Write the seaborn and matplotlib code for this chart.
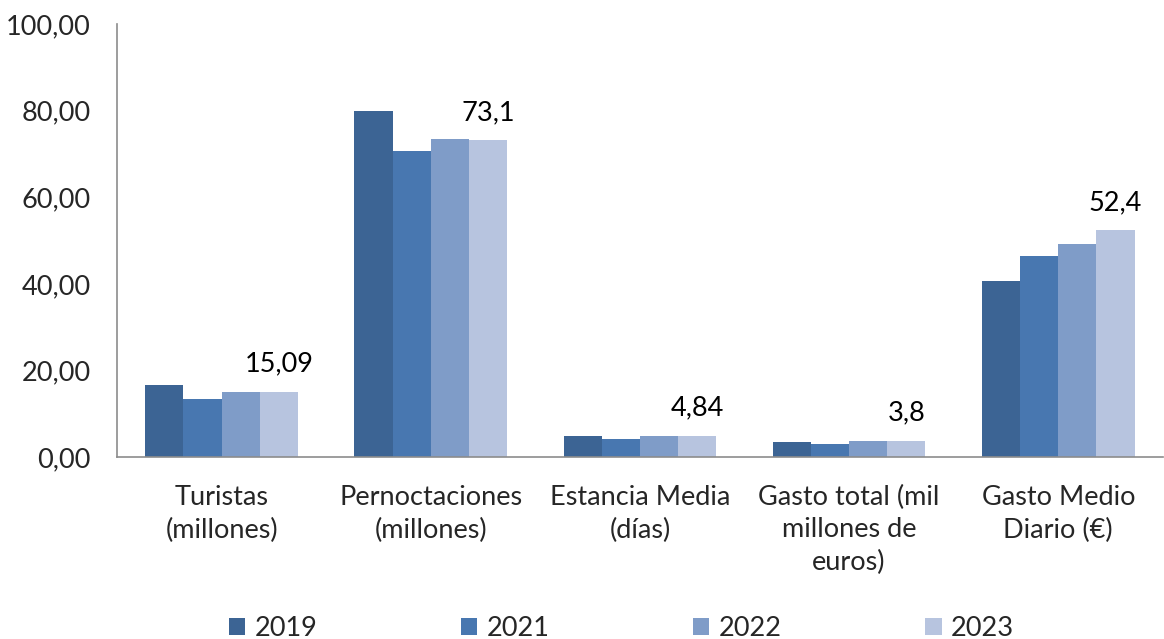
import matplotlib
matplotlib.use("Agg")
import matplotlib.pyplot as plt
import seaborn as sns
import pandas as pd
from matplotlib.ticker import FuncFormatter

categorias = [
    "Turistas\n(millones)",
    "Pernoctaciones\n(millones)",
    "Estancia Media\n(días)",
    "Gasto total (mil\nmillones de\neuros)",
    "Gasto Medio\nDiario (€)",
]
anios = ["2019", "2021", "2022", "2023"]
v2019 = [16.6, 80.0, 4.85, 3.5, 40.6]
v2021 = [13.3, 70.7, 4.2, 3.0, 46.4]
v2022 = [15.0, 73.4, 4.9, 3.7, 49.1]
v2023 = [15.09, 73.1, 4.84, 3.8, 52.4]
etiquetas_2023 = ["15,09", "73,1", "4,84", "3,8", "52,4"]
colores = ["#3C6494", "#4877B0", "#7F9CC8", "#B7C4DF"]

filas = []
for anio, vals in zip(anios, [v2019, v2021, v2022, v2023]):
    for c, v in zip(categorias, vals):
        filas.append({"categoria": c, "anio": anio, "valor": v})
df = pd.DataFrame(filas)

sns.set_style("white")
plt.rcParams["font.family"] = ["Lato", "DejaVu Sans"]
fs = 19.5

fig = plt.figure(figsize=(11.64, 6.39), dpi=100)
ax = fig.add_axes([0.1005, 0.2848, 0.8985, 0.6776])

sns.barplot(data=df, x="categoria", y="valor", hue="anio", palette=colores,
            width=0.73, saturation=1, ax=ax, errorbar=None, legend=True,
            linewidth=0, edgecolor="none")

# etiquetas sobre 2023
cont = ax.containers[3]
ax.bar_label(cont, labels=etiquetas_2023, padding=11, fontsize=fs, color="#000000")

ax.set_xlim(-0.5, 4.5)
ax.set_ylim(0, 100)
ax.set_yticks([0, 20, 40, 60, 80, 100])
ax.yaxis.set_major_formatter(FuncFormatter(lambda y, p: f"{y:.2f}".replace(".", ",")))
ax.set_xlabel("")
ax.set_ylabel("")

for s in ["top", "right"]:
    ax.spines[s].set_visible(False)
for s in ["left", "bottom"]:
    ax.spines[s].set_color("#8C8C8C")
    ax.spines[s].set_linewidth(1.2)

ax.set_xticks([0, 1, 2, 3, 4])
ax.set_xticklabels(categorias, fontsize=fs, linespacing=1.38)
ax.tick_params(axis="x", length=0, pad=20)
ax.set_xticks([0.5, 1.5, 2.5, 3.5, 4.5], minor=True)
ax.tick_params(axis="x", which="minor", length=6, color="#8C8C8C", width=1.2, direction="out")
ax.tick_params(axis="y", length=6, color="#8C8C8C", width=1.2, direction="out", labelsize=fs, pad=13)

handles, labels = ax.get_legend_handles_labels()
ax.legend(handles, labels, loc="center", bbox_to_anchor=(0.534, 0.016),
          bbox_transform=fig.transFigure, ncol=4, frameon=False, fontsize=fs,
          handlelength=0.6, handleheight=0.6, handletextpad=0.35, columnspacing=5.3)

fig.savefig("out.png", dpi=100)
